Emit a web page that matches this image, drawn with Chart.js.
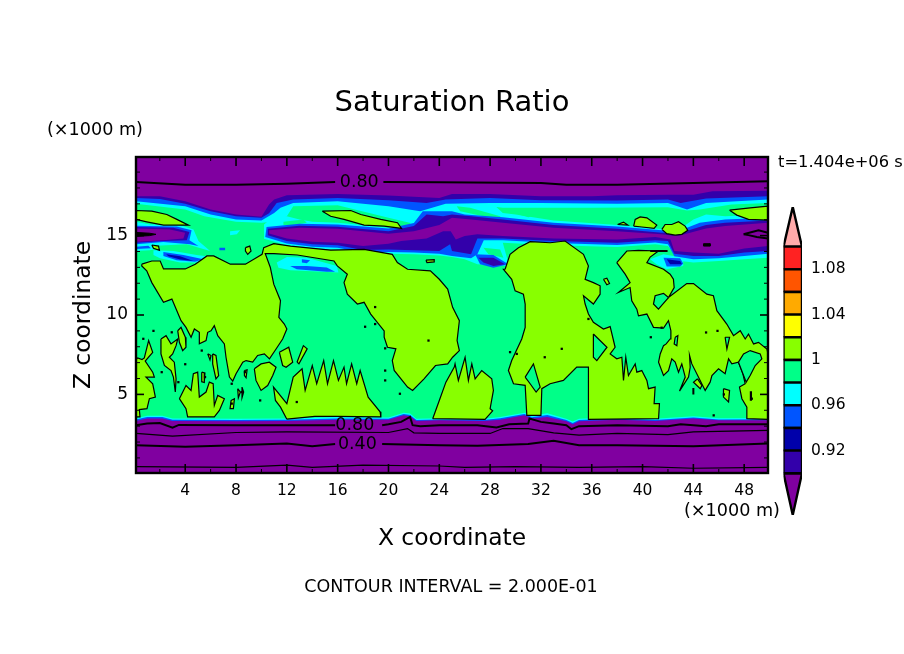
<!DOCTYPE html>
<html><head><meta charset="utf-8">
<style>html,body{margin:0;padding:0;background:#fff}canvas{position:absolute;left:0;top:0}</style>
<script src="https://cdn.jsdelivr.net/npm/chart.js@4"></script>
</head><body>
<canvas id="main" width="904" height="654"></canvas>
<canvas id="bar" width="904" height="654"></canvas>
<script>
// ---- axes
const xRange=[0.125,49.875], zRange=[0.05,19.95];
const xMajor=[4,8,12,16,20,24,28,32,36,40,44,48];
const xMinor=[2,6,10,14,18,22,26,30,34,38,42,46];
const zMajor=[5,10,15];
const zMinor=[1,2,3,4,6,7,8,9,11,12,13,14,16,17,18,19];
// ---- colours by level
const cPurple='#8000A0',cIndigo='#3300AA',cDark='#0000AA',cBlue='#0055FF',cCyan='#00FFFF',cGreen='#00FF88',cLime='#88FF00';
// ---- upper dry layer: lower edge of each level
const topPurple=[[.125,17.48],[2,17.48],[4,17.17],[6,16.64],[8,16.33],[10,16.18],[10.6,16.96],[11,17.27],[12,17.54],[16,17.62],[20,17.52],[24,17.37],[25,17.62],[28,17.62],[32,17.48],[36,17.48],[38,17.54],[42,17.58],[44,17.58],[45.5,17.79],[49.875,17.83]];
const topIndigo=[[.125,17.37],[2,17.3],[4,17.0],[6,16.54],[8,16.22],[10,16.12],[10.6,16.4],[11.2,17.06],[12.5,17.27],[16,17.37],[20,17.23],[23,17.06],[24.5,17.27],[28,17.37],[32,17.23],[38,17.21],[42,17.27],[43,17.06],[45,17.33],[49.875,17.48]];
const topBlue=[[.125,17.17],[4,16.85],[6,16.33],[8,16.02],[10,15.95],[11,16.43],[11.5,16.75],[12.5,17.06],[16,17.17],[20,16.85],[22.5,16.54],[24.5,17.0],[28,17.06],[32,17.06],[38,17.0],[42,17.06],[43.5,16.64],[45,17.06],[49.875,17.27]];
const topCyan=[[.125,17.0],[4,16.64],[5.5,16.22],[8,15.87],[10,15.81],[11,15.87],[12,16.22],[12.5,16.85],[16,16.91],[20,16.12],[22,15.74],[24,16.64],[25,16.89],[28,16.85],[29,16.75],[32,16.75],[36,16.75],[42,16.79],[43.5,16.58],[44.5,16.64],[47,16.96],[49.875,17.06]];
// ---- middle dry tongue
const midPurple=[[10.6,15.33],[13,15.49],[16,15.43],[20,15.12],[22,15.28],[24,15.66],[25,16.12],[26.5,16.02],[29,15.81],[33,15.49],[38,15.28],[41.5,15.08],[42.5,14.97],[43,15.03],[45,15.45],[46.5,15.6],[49.875,15.81],[49.875,14.34],[48,14.18],[46,13.86],[44,13.93],[42.5,14.03],[42.2,14.76],[41,14.91],[38,14.76],[33,14.82],[29,14.97],[27,15.08],[26,14.97],[25.3,14.76],[24.9,15.28],[24.3,15.28],[23,14.82],[21,14.66],[20,14.49],[18,14.34],[16,14.55],[14,14.62],[12,14.82],[10.6,15.14]];
const midIndigo=[[10.5,15.43],[13,15.62],[16,15.56],[20,15.28],[22,15.6],[23,16.33],[24.3,16.22],[25,16.33],[26.5,16.22],[29,16.02],[33,15.66],[38,15.43],[41.5,15.18],[43,15.18],[45,15.66],[46.5,15.81],[49.875,15.95],[49.875,14.03],[48,13.93],[46,13.72],[44,13.72],[42.5,13.86],[42,14.66],[41,14.7],[38,14.55],[33,14.66],[29,14.82],[27,14.82],[26.5,13.82],[25,14.03],[24.85,14.45],[24,14.03],[22,14.07],[20,14.13],[18,14.09],[16,14.39],[14,14.45],[12,14.66],[10.5,15.03]];
const midBlue=[[10.4,15.54],[13,15.74],[16,15.7],[20,15.45],[22,15.8],[22.7,16.54],[25,16.54],[26,16.33],[29,16.16],[33,15.81],[38,15.58],[41.5,15.33],[43,15.33],[44.5,15.81],[46.5,16.02],[49.875,16.12],[49.875,13.86],[48,13.72],[46,13.57],[44,13.51],[42.5,13.7],[42,14.45],[41,14.57],[38,14.41],[33,14.53],[29,14.7],[27.5,14.7],[27,13.82],[26.5,13.57],[25,13.72],[24,13.86],[22,13.93],[20,13.97],[18,13.93],[16,14.24],[14,14.3],[12,14.51],[10.3,14.91]];
const midCyan=[[10.2,15.7],[11,16.22],[12,16.22],[13,16.02],[14,15.87],[16,15.81],[18,15.66],[20,15.49],[21.5,15.49],[22.5,16.75],[24,17.17],[28,17.17],[29,16.43],[30,16.33],[33,15.95],[38,15.66],[41.5,15.41],[43,15.45],[44,16.02],[45,16.33],[46.5,16.22],[49.875,16.33],[49.875,13.61],[48,13.51],[46,13.4],[44,13.3],[43,13.4],[42,14.34],[41,14.45],[38,14.28],[33,14.39],[29,14.55],[29.5,13.09],[27,13.19],[26,13.51],[25,13.65],[24,13.74],[22,13.82],[20,13.86],[18,13.82],[16,14.11],[14,14.2],[12,14.39],[10.2,14.8]];
// ---- left tongue and small patches
const leftCyan=[[.125,15.87],[1.23,15.7],[3.6,15.66],[4.65,15.39],[5.04,14.66],[5.96,14.03],[4.12,14.45],[1.23,14.34],[.125,14.24]];
const leftBlue=[[.125,15.62],[3.33,15.58],[4.5,15.33],[4.33,14.7],[5.04,14.34],[4.38,14.45],[2.28,14.6],[.125,14.45]];
const leftIndigo=[[.125,15.54],[3.07,15.49],[4.33,15.22],[4.12,14.7],[2.28,14.66],[.125,14.55]];
const leftPurple=[[.125,15.45],[2.8,15.39],[3.99,15.18],[3.86,14.82],[2.28,14.7],[.125,14.62]];
const stripeCyanA=[[.125,14.41],[1.23,14.49],[2.02,14.24],[1.23,14.07],[.125,14.03]];
const stripeBlueA=[[.125,14.3],[1.1,14.36],[1.3,14.2],[.125,14.15]];
const stripeCyanB=[[1.5,14.07],[3.07,14.03],[4.9,13.78],[6.2,13.65],[5.56,13.3],[3.6,13.3],[2.02,13.57],[1.5,13.78]];
const stripeBlueB=[[2.28,13.97],[3.86,13.78],[5.43,13.51],[4.78,13.36],[3.33,13.45],[2.28,13.72]];
const stripeDarkB=[[2.5,13.82],[3.6,13.7],[4.65,13.4],[3.6,13.49],[2.68,13.7]];
const blueDot=[[6.69,14.24],[7.14,14.24],[7.14,14.07],[6.69,14.07]];
const cyanDot=[[7.53,15.28],[8.32,15.33],[8.06,15.08],[7.53,15.03]];
const gapCyan=[[11.2,13.3],[12,13.65],[13.57,13.61],[15.93,13.09],[16.06,12.67],[12.26,12.82],[11.34,12.98]];
const gapBlue=[[12.26,13.09],[13.57,13.09],[15.14,12.99],[15.8,12.73],[15.14,12.73],[12.78,12.88]];
const gapBlue2=[[13.18,13.51],[13.83,13.45],[13.57,13.26],[13.18,13.3]];
const greenPatchA=[[13.04,16.79],[14.6,16.58],[14.36,16.33],[13.18,16.43]];
const greenPatchB=[[11.73,15.87],[13.3,16.02],[13.57,15.81],[12.5,15.66],[11.73,15.66]];
const greenPatchC=[[25.37,16.85],[26.42,16.75],[28.79,16.22],[28.92,15.95],[27.47,16.22],[25.64,16.54]];
const greenPatchD=[[30.36,16.54],[31.67,16.33],[31.02,16.16],[30.23,16.33]];
const greenPatchE=[[27.47,14.24],[28.79,14.13],[29.05,13.61],[27.87,13.82]];
const spotBlueL=[[26.82,13.82],[28.26,13.78],[29.44,13.19],[28.26,12.98],[27.21,13.19]];
const spotIndigoL=[[27.08,13.61],[28.26,13.61],[29.18,13.19],[28.26,13.09],[27.47,13.3]];
const spotCyanR=[[40.6,13.51],[41.65,13.82],[43.2,13.61],[43.2,13.09],[41.9,12.88],[41.1,13.19]];
const spotBlueR=[[41.65,13.6],[42.96,13.58],[43.2,13.25],[42.96,13.05],[41.9,13.05]];
const spotDarkR=[[41.9,13.51],[42.96,13.4],[43.09,13.19],[42.17,13.19]];
// ---- lower dry layer: upper edge of each level
const bottomCyan=[[.125,3.5],[1,3.66],[2.2,3.66],[3,3.48],[8,3.46],[12,3.48],[16,3.57],[20,3.55],[21.2,3.85],[21.7,3.8],[22.2,3.46],[24,3.5],[27.5,3.46],[28.8,3.58],[30.7,3.85],[31.3,3.65],[32.5,3.82],[34,3.46],[34.5,3.3],[35,3.46],[38,3.55],[41,3.46],[44,3.62],[46,3.5],[49.875,3.52]];
const bottomBlue=[[.125,3.42],[1,3.57],[2.2,3.57],[3,3.4],[8,3.38],[12,3.4],[16,3.48],[20,3.47],[21.2,3.76],[21.7,3.7],[22.2,3.38],[24,3.42],[27.5,3.38],[28.8,3.5],[30.7,3.76],[31.3,3.56],[32.5,3.7],[34,3.38],[34.5,3.2],[35,3.38],[38,3.47],[41,3.38],[44,3.54],[46,3.42],[49.875,3.44]];
const bottomPurple=[[.125,3.33],[1,3.48],[2.2,3.48],[3,3.33],[8,3.31],[12,3.33],[16,3.41],[20,3.41],[21.2,3.68],[21.7,3.62],[22.2,3.33],[24,3.37],[27.5,3.33],[28.8,3.41],[30.7,3.68],[31.3,3.48],[32.5,3.58],[34,3.31],[34.5,3.12],[35,3.31],[38,3.41],[41,3.33],[44,3.48],[46,3.37],[49.875,3.37]];
// ---- saturated cloud regions (level 1.00)
const limeWest=[[.58,13.2],[1.37,13.4],[2.03,13.4],[2.29,12.9],[4,12.9],[4.79,13.2],[5.71,13.72],[6.24,13.72],[7.55,13.2],[8.74,13.2],[9.53,13.57],[10.05,13.82],[10.18,14.24],[10.97,14.49],[12.29,14.34],[15.45,14.09],[18.08,14.13],[20.3,13.82],[20.7,13.3],[21.5,12.88],[23.3,12.78],[24,12.25],[24.66,11.63],[25.05,10.48],[25.58,9.64],[25.4,8.39],[25.58,7.76],[25.05,7.34],[24.66,6.92],[23.7,6.82],[22.8,5.98],[21.9,5.25],[21.5,5.46],[20.45,6.51],[20.3,7.13],[20.58,7.87],[19.92,7.97],[19.66,8.6],[19.66,9],[18.6,10.06],[18.08,10.8],[17.55,10.69],[16.76,11.31],[16.5,12.04],[16.76,12.57],[15.97,13.09],[15.71,13.4],[12.82,13.78],[10.97,13.86],[10.3,13.86],[10.7,12.99],[10.97,11.94],[11.5,10.9],[11.37,9.85],[11.8,9.43],[12,9.12],[11.67,8.49],[11.15,7.86],[10.63,7.24],[10.23,7.55],[9.7,7.45],[9.31,7.03],[8.79,7.13],[8.53,7.03],[8,6.3],[7.74,5.84],[7.48,6.09],[7.21,7.34],[7.08,8.18],[6.56,8.7],[6.29,9.33],[6.03,9],[5.77,8.91],[5.64,8.39],[5.11,8.18],[5.11,8.91],[4.72,9.12],[4.46,8.6],[4.06,9.22],[3.67,9.64],[2.95,11],[2.29,10.8],[1.37,12.04],[.97,12.78],[.58,13.09]];
const limeCentre=[[29.18,12.88],[29.57,13.82],[30.23,14.24],[31.15,14.62],[32.72,14.55],[33.9,14.66],[35.35,13.82],[35.74,13.09],[35.48,12.25],[36.13,12.04],[36.66,11.84],[36.66,11.31],[36.13,10.69],[35.35,11.21],[35.48,10.69],[35.74,10.06],[36.13,9.54],[36.92,9.12],[37.45,9.27],[37.84,7.97],[37.45,7.55],[37.97,7.24],[38.37,7.34],[38.5,5.88],[38.68,7.34],[38.89,6.19],[39.42,6.92],[39.55,6.4],[39.94,6.5],[40.34,5.88],[40.47,5.36],[40.99,5.46],[40.91,4.42],[41.33,4.42],[41.26,3.47],[35.74,3.43],[35.74,6.72],[34.82,6.72],[33.77,5.88],[32.72,5.67],[32.07,5.36],[32,3.68],[30.89,3.68],[30.76,5.57],[29.84,5.67],[29.44,6.5],[29.7,7.13],[30.49,8.49],[30.76,9.22],[30.76,10.69],[30.62,11.31],[29.97,11.52],[29.7,12.25],[29.05,12.88]];
const limeEast=[[37.97,13.3],[38.76,14.03],[39.68,14.07],[41.25,14.03],[40.6,13.65],[40.34,13.3],[41.65,12.88],[42.17,12.57],[42.43,12.25],[42.49,11.73],[42.04,11.1],[43.48,11.98],[44.01,11.98],[45.06,11.31],[45.58,11.21],[45.85,10.27],[46.63,9.43],[47.16,8.7],[47.69,9.01],[48.08,8.49],[48.34,8.8],[48.74,8.18],[49.13,8.28],[49.79,7.86],[49.875,7.55],[49.875,3.43],[48.21,3.47],[48.21,4.2],[47.82,4.73],[47.63,5.46],[48.08,5.67],[47.9,6.3],[47.55,7.03],[47.03,6.92],[46.77,7.24],[46.5,6.3],[45.98,6.61],[45.46,6.19],[45.32,5.77],[44.93,5.25],[43.88,6.92],[43.7,7.45],[43.75,6.71],[43.62,6.09],[42.91,5.21],[43.36,6.09],[43.09,6.92],[42.83,6.4],[42.57,7.03],[42.3,7.24],[42.04,6.5],[41.65,6.19],[41.26,7.03],[41.39,7.55],[41.65,8.07],[41.86,8.18],[42.17,8.49],[42.23,9.01],[42.04,9.64],[41.65,9.18],[40.86,9.22],[40.34,10.06],[39.68,9.95],[39.55,10.37],[39.15,10.9],[39.02,11.73],[38.1,11.42],[39.02,12.04],[38.63,12.57]];
const limeLowWest=[[.125,7.2],[.26,7.3],[.6,7.2],[.78,7.3],[1.12,8.39],[1.44,7.65],[.85,7.1],[1.44,6.4],[1.57,6.09],[.91,6.09],[1.44,5.67],[1.65,4.83],[1.18,4.73],[.99,4.1],[.39,4.04],[.44,3.58],[.125,3.58]];
const limeFingerA=[[2.09,8.49],[2.49,8.7],[2.88,8.18],[3.41,8.49],[3.28,8.07],[3.01,7.55],[2.75,7.34],[3.14,7.03],[3.28,5.98],[3.22,5.15],[3.07,6.09],[2.88,6.5],[2.36,6.82],[2.09,7.55]];
const limeFingerB=[[3.41,9.01],[3.67,9.22],[4.01,8.6],[4.06,7.97],[3.8,7.76],[3.54,8.28]];
const limeLowMidA=[[3.54,4.73],[4.06,5.56],[4.46,5.25],[4.64,6.3],[4.98,6.4],[5.11,4.83],[5.64,5.15],[5.9,5.77],[6.2,5.67],[6.29,4.31],[6.56,4.94],[7.08,4.73],[6.69,3.99],[6.29,3.58],[4.19,3.58],[4.06,4.1]];
const limeFingerC=[[6.16,7.55],[6.42,7.45],[6.63,6.19],[6.42,5.98],[6.16,6.92]];
const limeFingerD=[[12.8,7.03],[13.3,8.07],[13.6,7.87],[12.95,6.93]];
const limeFingerE=[[11.41,7.65],[12.15,7.97],[12.46,7.03],[11.94,6.71],[11.67,6.82]];
const limeLoop=[[9.44,6.61],[9.97,6.92],[10.62,7.03],[11.15,6.71],[10.89,6.19],[10.49,5.56],[9.97,5.25],[9.57,5.88]];
const limeSliverA=[[7.61,4.62],[7.87,4.73],[7.79,4.1],[7.53,4.1]];
const limeSliverB=[[8.13,5.36],[8.34,5.15],[8.18,4.79]];
const limeSliverC=[[8.47,5.46],[8.6,5.15],[8.47,4.79]];
const limeSliverD=[[8.66,6.5],[8.87,6.55],[8.79,6.05],[8.66,6.19]];
const limeSliverE=[[5.77,7.55],[6.03,7.45],[5.95,7.17]];
const limeSliverF=[[5.3,6.4],[5.55,6.35],[5.5,5.75],[5.3,5.8]];
const limeLowMidB=[[12,3.44],[11.5,4.2],[11.1,4.62],[10.95,5.46],[12,4.42],[12.5,6.09],[13.2,6.61],[13.44,5.25],[14,6.82],[14.35,5.67],[14.9,7.13],[15.2,5.67],[15.67,7.13],[16.06,5.88],[16.5,6.72],[16.7,5.67],[17.1,6.92],[17.5,5.67],[17.77,6.5],[18.4,4.83],[19.34,3.9],[19.4,3.58],[15.9,3.62],[14.2,3.62]];
const limeLowC=[[23.48,3.47],[24,4.62],[24.52,5.77],[25.18,6.72],[25.24,6.92],[25.5,5.88],[26.03,7.34],[26.29,5.88],[26.56,6.92],[26.82,5.98],[27.34,6.5],[28.13,5.98],[28.26,5.25],[28,4.1],[28.2,3.96],[27.6,3.43]];
const limeTopA=[[.125,16.58],[1.37,16.54],[2.55,16.33],[3.34,16.02],[4.26,15.66],[2.29,15.66],[.97,15.87],[.125,16.02]];
const limeTopB=[[14.79,16.54],[17.03,16.58],[17.82,16.33],[19.39,16.02],[20.71,15.81],[21.03,15.45],[19.66,15.6],[18.08,15.66],[16.5,16.02],[15.45,16.22]];
const limeTopC=[[39.3,15.6],[39.42,16.02],[39.81,16.18],[40.34,16.12],[41.12,15.66],[40.91,15.45],[39.94,15.54]];
const limeTopD=[[41.52,15.39],[41.78,15.7],[42.3,15.7],[42.83,15.87],[43.35,15.6],[43.56,15.33],[43.09,15.08],[42.57,15.03],[41.91,15.12]];
const limeTopE=[[38.03,15.7],[38.5,15.85],[38.84,15.66]];
const limeTopF=[[46.85,16.6],[48.47,16.75],[49.875,16.85],[49.875,15.97],[48.34,16.02],[47.42,16.29]];
const limeDotA=[[8.74,14.24],[9.08,14.34],[9.18,14.03],[8.92,13.82],[8.74,14.03]];
const limeDotB=[[1.37,14.41],[1.9,14.34],[1.97,14.07],[1.5,14.2]];
const limeDotC=[[22.95,13.45],[23.6,13.49],[23.6,13.34],[23.03,13.3]];
const limeDotD=[[36.92,12.25],[37.19,12.32],[37.4,11.98],[37.19,11.9]];
const limeIslandL=[[44.33,5.98],[44.67,5.56],[44.54,5.36],[44.01,5.77]];
const limeIslandM=[[46.37,5.36],[46.85,5.25],[46.77,4.52],[46.37,4.83]];
// ---- unsaturated holes inside cloud
const holeEastA=[[42.04,11.1],[41.65,11.36],[40.99,11.21],[40.86,10.69],[41.25,10.37]];
const holeEastB=[[47.55,7.03],[47.95,7.55],[48.47,7.76],[49.26,7.55],[49.39,7.24],[48.87,6.82],[48.47,6.19],[48.16,5.77]];
const holeEastC=[[42.57,8.6],[42.78,8.7],[42.7,8.07],[42.49,8.18]];
const holeEastD=[[46.5,8.6],[46.85,8.6],[46.64,7.86]];
const holeCentreA=[[30.76,6.09],[31.41,6.92],[31.94,5.46],[31.62,5.15],[31.15,5.67]];
const holeCentreB=[[36.13,8.8],[37.2,7.97],[36.4,7.13],[36.13,7.34]];
// ---- black contours
const contourTop80=[[.125,18.38],[4,18.21],[8,18.21],[12,18.27],[15.8,18.38],null,[19.6,18.38],[24,18.36],[32,18.31],[34,18.21],[38,18.21],[44,18.31],[49.875,18.42]];
const contourLow80=[[.125,3.06],[1,3.16],[2,3.2],[3,2.91],[3.5,3.08],[8,3.06],[12,3.06],[15.8,3.06],null,[19.5,3.06],[20,3.12],[21,3.27],[21.7,3.58],[21.9,3.06],[22.5,3],[24,3.06],[27,3.06],[28.5,2.91],[29.5,3.12],[31,3.16],[31.1,3.48],[32,3.27],[33,3.16],[34,3.06],[34.4,2.81],[35,3],[38,3.06],[42,3],[43,3.12],[45,3],[46,3.12],[49.875,3.12]];
const contourLow60=[[.125,2.54],[3,2.37],[8,2.6],[12,2.64],[20,2.6],[21.5,2.85],[22,2.58],[24,2.54],[28,2.54],[29,2.85],[31,2.85],[33,2.58],[35,2.43],[38,2.54],[42,2.47],[44,2.64],[49.875,2.74]];
const contourLow40=[[.125,1.8],[4,1.7],[8,1.8],[12,1.91],[14,1.74],[15.8,1.87],null,[19.5,1.87],[24,1.8],[27,1.76],[31,1.87],[33,2.08],[35,1.8],[38,1.8],[44,1.74],[49.875,1.91]];
const contourLow20=[[.125,.45],[8,.41],[12,.55],[14,.41],[18,.55],[24,.49],[26,.41],[30,.45],[35,.41],[40,.45],[44,.35],[49.875,.41]];
const contourArm=[[40.6,14.03],[41.97,14.03]];
const contourBar=[[48.53,5.2],[48.53,4.6]];
const contourBarB=[[44,5.4],[44,5]];
const contourCoreW=[[.125,15.2],[1.2,15.15],[1.7,15.08],[1.2,15],[.125,14.95]];
const contourCoreE=[[47.95,15.08],[49.13,15.33],[49.875,15.18],[49.875,14.82],[49,14.91],[48.34,15.03]];
const contourCoreM=[[44.8,14.49],[45.32,14.49],[45.32,14.34],[44.8,14.34]];
const specks=[[1.5,9],[2.94,8.91],[.7,8.5],[5.3,7.76],[4,6.9],[18.95,10.5],[18.16,9.26],[18.95,9.43],[23.15,8.39],[19.74,7.9],[45.9,9],[45,8.9],[40.65,8.6],[35.74,9.75],[41.5,9.2],[33.64,7.87],[29.57,7.66],[30.1,7.55],[32.3,7.34],[48.6,4.73],[46.4,5],[45.6,3.68],[2.15,6.4],[3.46,5.77],[5.56,6.09],[7.66,5.67],[8.45,5.15],[7.66,4.42],[20.9,5.04],[19.74,6.5],[19.74,5.88],[12.78,4.52],[8.7,6.4],[9.9,4.62]];
// ---- colour bar
const barLevels=[.90,.92,.94,.96,.98,1.00,1.02,1.04,1.06,1.08,1.10];
const barColors=[cIndigo,cDark,cBlue,cCyan,cGreen,cLime,'#FFFF00','#FFAA00','#FF5500','#FF2222'];
const barTicks=[.92,.96,1,1.04,1.08];
const barRange=[.8632,1.135];
const barOverColor='#FFAAAA', barUnderColor=cPurple;
// ---- texts
const titleText='Saturation Ratio', xTitle='X coordinate', zTitle='Z coordinate';
const contourLabels=[['0.80',17.7,18.35],['0.80',17.35,3.06],['0.40',17.55,1.87]];
const pageTexts=[['(×1000 m)',47,130,'left',17.6],['(×1000 m)',684,511,'left',17.6],['t=1.404e+06 s',778,163,'left',16.3],['CONTOUR INTERVAL = 2.000E-01',451,587,'center',17.5]];

const font='"DejaVu Sans"';
const toXY=a=>a.map(p=>p?{x:p[0],y:p[1]}:{x:null,y:null});
const area=(pts,color,line)=>({showLine:true,data:toXY(pts.concat([pts[0]])),backgroundColor:color,borderColor:line?'#000':color,borderWidth:line||0,pointRadius:0,fill:'shape',tension:0});
const stroke=(pts,w)=>({showLine:true,data:toXY(pts),borderColor:'#000',borderWidth:w,pointRadius:0,fill:false,tension:0,spanGaps:false});
const x0=xRange[0],x1=xRange[1],z0=zRange[0],z1=zRange[1];
const topBand=e=>[[x0,z1]].concat(e,[[x1,z1]]);
const lowBand=e=>[[x0,z0]].concat(e,[[x1,z0]]);
const paint=[
 area([[x0,z0],[x1,z0],[x1,z1],[x0,z1]],cGreen),
 area(topBand(topCyan),cCyan),area(midCyan,cCyan),area(leftCyan,cCyan),area(stripeCyanA,cCyan),area(stripeCyanB,cCyan),area(gapCyan,cCyan),area(cyanDot,cCyan),area(spotCyanR,cCyan),
 area(greenPatchA,cGreen),area(greenPatchB,cGreen),area(greenPatchC,cGreen),area(greenPatchD,cGreen),area(greenPatchE,cGreen),
 area(topBand(topBlue),cBlue),area(midBlue,cBlue),area(leftBlue,cBlue),area(stripeBlueA,cBlue),area(stripeBlueB,cBlue),area(gapBlue,cBlue),area(gapBlue2,cBlue),area(blueDot,cBlue),area(spotBlueL,cBlue),area(spotBlueR,cBlue),
 area(stripeDarkB,cDark),area(spotDarkR,cDark),
 area(topBand(topIndigo),cIndigo),area(midIndigo,cIndigo),area(leftIndigo,cIndigo),area(spotIndigoL,cIndigo),
 area(topBand(topPurple),cPurple),area(midPurple,cPurple),area(leftPurple,cPurple),
 area(lowBand(bottomCyan),cCyan),area(lowBand(bottomBlue),cBlue),area(lowBand(bottomPurple),cPurple),
];
[limeWest,limeCentre,limeEast,limeLowWest,limeFingerA,limeFingerB,limeLowMidA,limeFingerC,limeFingerD,limeFingerE,limeLoop,limeSliverA,limeSliverB,limeSliverC,limeSliverD,limeSliverE,limeSliverF,limeLowMidB,limeLowC,limeTopA,limeTopB,limeTopC,limeTopD,limeTopE,limeTopF,limeDotA,limeDotB,limeDotC,limeDotD,limeIslandL,limeIslandM].forEach(p=>paint.push(area(p,cLime,1.2)));
[holeEastA,holeEastB,holeEastC,holeEastD,holeCentreA,holeCentreB].forEach(p=>paint.push(area(p,cGreen,1.2)));
paint.push(stroke(contourTop80,2),stroke(contourLow80,2),stroke(contourLow60,1.2),stroke(contourLow40,2),stroke(contourLow20,1.2),stroke(contourArm,2),stroke(contourBar,2.2),stroke(contourBarB,2));
paint.push(area(contourCoreW,'#000',1),area(contourCoreE,cPurple,2),area(contourCoreM,'#000',1));
paint.push({showLine:false,data:toXY(specks),pointStyle:'rect',pointRadius:1.6,backgroundColor:'#000',borderWidth:0});

const frameAndText={id:'frameAndText',afterDatasetsDraw(c){
 const g=c.ctx,a=c.chartArea,sx=c.scales.x,sy=c.scales.y;
 g.save();g.strokeStyle='#000';g.fillStyle='#000';
 const seg=(p,q,r,s,w)=>{g.lineWidth=w;g.beginPath();g.moveTo(p,q);g.lineTo(r,s);g.stroke();};
 xMajor.forEach(v=>{const p=sx.getPixelForValue(v);seg(p,a.bottom,p,a.bottom-9,1.6);seg(p,a.top,p,a.top+9,1.6);});
 xMinor.forEach(v=>{const p=sx.getPixelForValue(v);seg(p,a.bottom,p,a.bottom-4,1);seg(p,a.top,p,a.top+4,1);});
 zMajor.forEach(v=>{const p=sy.getPixelForValue(v);seg(a.left,p,a.left+8,p,1.6);seg(a.right,p,a.right-8,p,1.6);});
 zMinor.forEach(v=>{const p=sy.getPixelForValue(v);seg(a.left,p,a.left+4,p,1);seg(a.right,p,a.right-4,p,1);});
 g.lineWidth=2.4;g.strokeRect(a.left,a.top,a.right-a.left,a.bottom-a.top);
 g.textBaseline='middle';
 g.textAlign='center';g.font='17.5px '+font;
 contourLabels.forEach(([t,x,z])=>g.fillText(t,sx.getPixelForValue(x),sy.getPixelForValue(z)));
 pageTexts.forEach(([t,x,y,al,sz])=>{g.textAlign=al;g.font=sz+'px '+font;g.fillText(t,x,y);});
 g.restore();
}};

new Chart(document.getElementById('main'),{type:'scatter',data:{datasets:paint.slice().reverse()},plugins:[frameAndText],options:{
 responsive:false,animation:false,devicePixelRatio:1,
 layout:{padding:0},
 plugins:{legend:{display:false},tooltip:{enabled:false},
  title:{display:true,text:titleText,color:'#000',font:{family:font,size:29,weight:'normal',lineHeight:1.2},padding:{top:85.6,bottom:36.6}}},
 scales:{
  x:{type:'linear',min:x0,max:x1,grid:{display:false,drawTicks:false},border:{display:false},
   afterBuildTicks:s=>{s.ticks=xMajor.map(value=>({value}));},
   afterFit:s=>{s.height=181;},
   ticks:{autoSkip:false,maxRotation:0,color:'#000',padding:9,font:{family:font,size:15.5},callback:v=>String(v)},
   title:{display:true,text:xTitle,color:'#000',font:{family:font,size:23.4},padding:{top:0,bottom:101}}},
  y:{type:'linear',min:z0,max:z1,grid:{display:false,drawTicks:false},border:{display:false},
   afterBuildTicks:s=>{s.ticks=zMajor.map(value=>({value}));},
   afterFit:s=>{s.width=136;},
   ticks:{autoSkip:false,color:'#000',padding:8,font:{family:font,size:17},callback:v=>String(v)},
   title:{display:true,text:zTitle,color:'#000',font:{family:font,size:23.4},padding:{top:70,bottom:0}}},
  margin:{type:'linear',position:'right',grid:{display:false,drawTicks:false},border:{display:false},ticks:{display:false},afterFit:s=>{s.width=136;}}
 }}});

const barSets=[];
barColors.forEach((col,i)=>barSets.push(area([[0,barLevels[i]],[1,barLevels[i]],[1,barLevels[i+1]],[0,barLevels[i+1]]],col,2.4)));
barSets.push(area([[0,1.10],[.5,barRange[1]],[1,1.10]],barOverColor,2.4));
barSets.push(area([[0,.90],[.5,barRange[0]],[1,.90]],barUnderColor,2.4));
new Chart(document.getElementById('bar'),{type:'scatter',data:{datasets:barSets},options:{
 responsive:false,animation:false,devicePixelRatio:1,
 layout:{padding:{left:783.5,right:42,top:207,bottom:139}},
 plugins:{legend:{display:false},tooltip:{enabled:false}},
 scales:{
  x:{type:'linear',display:false,min:0,max:1},
  y:{type:'linear',position:'right',min:barRange[0],max:barRange[1],grid:{display:false,drawTicks:false},border:{display:false},
   afterBuildTicks:s=>{s.ticks=barTicks.map(value=>({value}));},
   afterFit:s=>{s.width=60;},
   ticks:{autoSkip:false,color:'#000',padding:9,font:{family:font,size:15.5},callback:v=>String(Math.round(v*100)/100)}}
 }}});
</script>
</body></html>
